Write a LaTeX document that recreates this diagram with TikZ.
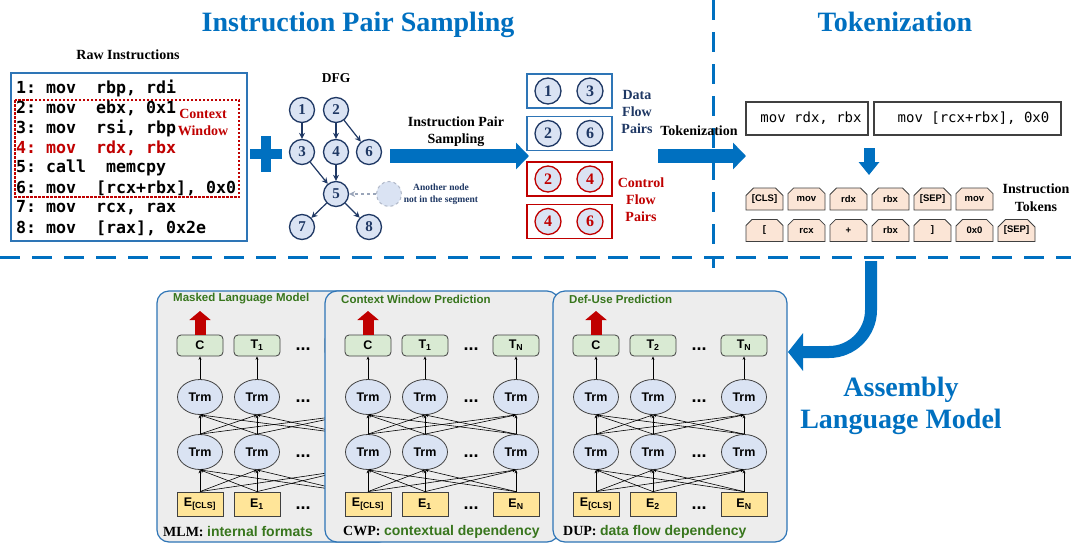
\documentclass[tikz,border=0pt]{standalone}
\usepackage{fontspec}
\setmainfont{Liberation Serif}
\setsansfont{Liberation Sans}
\setmonofont{DejaVu Sans Mono}
\usetikzlibrary{arrows.meta,shapes.geometric,shapes.misc,calc}

\definecolor{tblue}{HTML}{0070C0}
\definecolor{bblue}{HTML}{2E75B6}
\definecolor{navy}{HTML}{1F3864}
\definecolor{dred}{HTML}{C00000}
\definecolor{lav}{HTML}{DAE3F3}
\definecolor{pgreen}{HTML}{D9EAD3}
\definecolor{tgreen}{HTML}{38761D}
\definecolor{pyellow}{HTML}{FFE599}
\definecolor{peach}{HTML}{FBE5D6}
\definecolor{panelgray}{HTML}{EDEDED}
\definecolor{edgegray}{HTML}{404040}

\tikzset{
 bigtitle/.style={font=\fontsize{28}{32}\selectfont\bfseries, text=tblue, anchor=base, inner sep=0},
 lbl/.style={font=\fontsize{14}{17}\selectfont\bfseries, align=center, inner sep=0},
 codeline/.style={font=\fontsize{16.6}{20}\selectfont\ttfamily\bfseries, anchor=west, inner sep=0},
 rawbox/.style={draw=bblue, line width=1.8pt},
 ctxbox/.style={draw=dred, line width=1.1pt, dash pattern=on 2.5pt off 1.5pt},
 dfgnode/.style={circle, draw=navy, line width=1.3pt, fill=lav, minimum size=25pt, inner sep=0, font=\fontsize{15}{15}\selectfont\bfseries, text=navy},
 ghostnode/.style={circle, draw=navy!35, dashed, line width=1pt, fill=lav, minimum size=25pt},
 dfgedge/.style={draw=navy, line width=1.2pt, -{Stealth[length=6pt,width=6pt]}},
 ghostedge/.style={draw=navy!45, line width=1.2pt, dashed, -{Stealth[length=6pt,width=6pt]}},
 pairbox/.style={line width=1.8pt, minimum width=85pt, minimum height=34pt, inner sep=0},
 paircirc/.style={circle, line width=1.3pt, fill=lav, minimum size=26pt, inner sep=0, font=\fontsize{16}{16}\selectfont\bfseries},
 bigarrow/.style={draw=tblue, line width=14pt, -{Triangle[width=26pt,length=13pt]}},
 sepline/.style={draw=tblue, line width=3pt, dash pattern=on 20pt off 12pt},
 tokbox/.style={draw=edgegray, line width=1.3pt, minimum height=33pt, inner sep=0, font=\fontsize{14}{14}\selectfont\ttfamily},
 token/.style={chamfered rectangle, chamfered rectangle corners={north west,north east}, chamfered rectangle xsep=6pt, draw=edgegray, line width=0.8pt, fill=peach, minimum width=37pt, minimum height=22pt, inner sep=0, font=\fontsize{9.5}{9.5}\selectfont\sffamily\bfseries},
 panelbox/.style={draw=bblue, line width=1.2pt, fill=panelgray, rounded corners=12pt},
 ptitle/.style={font=\fontsize{11.5}{12}\selectfont\sffamily\bfseries, text=tgreen, anchor=west, inner sep=0},
 topbox/.style={draw=edgegray, line width=0.8pt, fill=pgreen, rounded corners=4pt, minimum width=46pt, minimum height=21pt, inner sep=0, font=\fontsize{12.5}{12.5}\selectfont\sffamily\bfseries},
 trm/.style={ellipse, draw=edgegray, line width=0.8pt, fill=lav, minimum width=45pt, minimum height=35pt, inner sep=0, font=\fontsize{12.5}{12.5}\selectfont\sffamily\bfseries},
 ebox/.style={draw=edgegray, line width=0.8pt, fill=pyellow, minimum width=46pt, minimum height=24pt, inner sep=0, font=\fontsize{12.5}{12.5}\selectfont\sffamily\bfseries},
 pdots/.style={font=\fontsize{18}{18}\selectfont\sffamily\bfseries, inner sep=0},
 parrow/.style={draw=black, line width=0.6pt, -{Stealth[length=3.5pt,width=3pt]}},
 redarrow/.style={draw=dred, line width=11pt, -{Triangle[width=21pt,length=9pt]}},
 bottomtxt/.style={font=\fontsize{14}{14}\selectfont\bfseries, anchor=west, inner sep=0},
}

% #1 left x, #2 prefix, #3 title, #4 top2, #5 top3, #6 E2, #7 E3, #8 Trm text of column 3
\newcommand\mypanel[8]{%
 \path[panelbox] (#1,291) rectangle (#1+234,542);
 \node[ptitle] (#2title) at (#1+16,299) {#3};
 \node[topbox] (#2t1) at (#1+43,345.5) {C};
 \node[topbox] (#2t2) at (#1+100,345.5) {#4};
 \node[topbox] (#2t3) at (#1+191,345.5) {#5};
 \node[trm] (#2u1) at (#1+43,397) {Trm};
 \node[trm] (#2u2) at (#1+100,397) {Trm};
 \node[trm] (#2u3) at (#1+191,397) {#8};
 \node[trm] (#2l1) at (#1+43,452) {Trm};
 \node[trm] (#2l2) at (#1+100,452) {Trm};
 \node[trm] (#2l3) at (#1+191,452) {#8};
 \node[ebox] (#2e1) at (#1+43,504) {E\textsubscript{[CLS]}};
 \node[ebox] (#2e2) at (#1+100,504) {#6};
 \node[ebox] (#2e3) at (#1+191,504) {#7};
 \node[pdots] (#2d1) at (#1+146,349) {...};
 \node[pdots] (#2d2) at (#1+146,401) {...};
 \node[pdots] (#2d3) at (#1+146,456) {...};
 \node[pdots] (#2d4) at (#1+146,508) {...};
 \coordinate (#2out) at (#1+43,311);
 \draw[redarrow] (#2t1.north) -- (#2out);
 \foreach \i in {1,2,3}{
   \draw[parrow] (#2u\i.north) -- (#2t\i.south);
   \foreach \j in {1,2,3}{
     \draw[parrow] (#2e\i.north) -- (#2l\j.south);
     \draw[parrow] (#2l\i.north) -- (#2u\j.south);
   }
 }
}

\begin{document}
\begin{tikzpicture}[x=1pt,y=-1pt]
\fill[white] (0,0) rectangle (1071,544);
\path[use as bounding box] (0,0) rectangle (1071,544);

% titles
\node[bigtitle] (title1) at (358,31) {Instruction Pair Sampling};
\node[bigtitle] (title2) at (895,31) {Tokenization};

% separators
\draw[sepline] (713,0) -- (713,268);
\draw[sepline] (0,257) -- (1071,257);

% raw instructions
\node[lbl] (rawlbl) at (128,55) {Raw Instructions};
\draw[rawbox] (11,73) rectangle (247,241);
\draw[ctxbox] (15,100) rectangle (239,197);
\node[codeline] (c1) at (16,88) {1:~mov~~rbp,~rdi};
\node[codeline] (c2) at (16,108) {2:~mov~~ebx,~0x1};
\node[codeline] (c3) at (16,128) {3:~mov~~rsi,~rbp};
\node[codeline, text=dred] (c4) at (16,148) {4:~mov~~rdx,~rbx};
\node[codeline] (c5) at (16,168) {5:~call~~memcpy};
\node[codeline] (c6) at (16,188) {6:~mov~~[rcx+rbx],~0x0};
\node[codeline] (c7) at (16,208) {7:~mov~~rcx,~rax};
\node[codeline] (c8) at (16,228) {8:~mov~~[rax],~0x2e};
\node[lbl, text=dred] (ctxlbl) at (203,122.5) {Context\\Window};

% plus
\draw[tblue, line width=10pt] (250,154) -- (282,154);
\draw[tblue, line width=10pt] (266,136) -- (266,172);

% DFG
\node[lbl, font=\fontsize{13.5}{14}\selectfont\bfseries] (dfglbl) at (336,78) {DFG};
\node[dfgnode] (n1) at (302,110) {1};
\node[dfgnode] (n2) at (336,110) {2};
\node[dfgnode] (n3) at (302,152) {3};
\node[dfgnode] (n4) at (336,152) {4};
\node[dfgnode] (n6) at (369,152) {6};
\node[dfgnode] (n5) at (336,194) {5};
\node[dfgnode] (n7) at (302,227) {7};
\node[dfgnode] (n8) at (369,227) {8};
\node[ghostnode] (nx) at (389,194) {};
\draw[dfgedge] (n1) -- (n3);
\draw[dfgedge] (n2) -- (n4);
\draw[dfgedge] (n2) -- (n6);
\draw[dfgedge] (n3) -- (n5);
\draw[dfgedge] (n4) -- (n5);
\draw[dfgedge] (n5) -- (n7);
\draw[dfgedge] (n5) -- (n8);
\draw[ghostedge] (nx) -- (n5);
\node[lbl, font=\fontsize{9.5}{12}\selectfont\bfseries, text=navy] (nxlbl) at (441,194) {Another node\\not in the segment};

% sampling arrow
\node[lbl] (samplbl) at (456,132) {Instruction Pair\\Sampling};
\coordinate (sa1) at (390,156);
\coordinate (sa2) at (529,156);
\draw[bigarrow] (sa1) -- (sa2);

% pairs
\node[pairbox, draw=bblue] (p1) at (569.5,91) {};
\node[pairbox, draw=bblue] (p2) at (569.5,133.5) {};
\node[pairbox, draw=dred] (p3) at (569.5,179) {};
\node[pairbox, draw=dred] (p4) at (569.5,221.5) {};
\node[paircirc, draw=navy, text=navy] (p1a) at (548,91) {1};
\node[paircirc, draw=navy, text=navy] (p1b) at (590,91) {3};
\node[paircirc, draw=navy, text=navy] (p2a) at (548,133.5) {2};
\node[paircirc, draw=navy, text=navy] (p2b) at (590,133.5) {6};
\node[paircirc, draw=dred, text=dred] (p3a) at (548,179) {2};
\node[paircirc, draw=dred, text=dred] (p3b) at (590,179) {4};
\node[paircirc, draw=dred, text=dred] (p4a) at (548,221.5) {4};
\node[paircirc, draw=dred, text=dred] (p4b) at (590,221.5) {6};
\node[lbl, text=navy] (dfplbl) at (637,112) {Data\\Flow\\Pairs};
\node[lbl, text=dred] (cfplbl) at (641,200) {Control\\Flow\\Pairs};

% tokenization arrow
\node[lbl] (toklbl) at (699,131) {Tokenization};
\coordinate (ta1) at (658,156);
\coordinate (ta2) at (746,156);
\draw[bigarrow] (ta1) -- (ta2);

% tokenization boxes
\node[tokbox, minimum width=122pt] (tb1) at (807,118.5) {\hspace*{8pt}mov rdx, rbx};
\node[tokbox, minimum width=187pt] (tb2) at (967.5,118.5) {\hspace*{12pt}mov [rcx+rbx], 0x0};
\coordinate (da1) at (869,148);
\coordinate (da2) at (869,175);
\draw[draw=tblue, line width=11pt, -{Triangle[width=20pt,length=13pt]}] (da1) -- (da2);

% tokens
\node[token] (k1) at (764.5,199) {[CLS]};
\node[token] (k2) at (806.5,199) {mov};
\node[token] (k3) at (848.5,199) {rdx};
\node[token] (k4) at (890.5,199) {rbx};
\node[token] (k5) at (932.5,199) {[SEP]};
\node[token] (k6) at (974.5,199) {mov};
\node[token] (m1) at (764.5,230.5) {[};
\node[token] (m2) at (806.5,230.5) {rcx};
\node[token] (m3) at (848.5,230.5) {+};
\node[token] (m4) at (890.5,230.5) {rbx};
\node[token] (m5) at (932.5,230.5) {]};
\node[token] (m6) at (974.5,230.5) {0x0};
\node[token] (m7) at (1016.5,230.5) {[SEP]};
\node[lbl, font=\fontsize{14}{18}\selectfont\bfseries] (itlbl) at (1036,198) {Instruction\\Tokens};

% curved arrow
\coordinate (cs) at (871,261);
\coordinate (ce) at (788,352);
\draw[draw=tblue, line width=12pt, rounded corners=42pt, -{Triangle[width=37pt,length=15pt]}] (cs) |- (ce);
\node[lbl, font=\fontsize{28}{32}\selectfont\bfseries, text=tblue] (almlbl) at (901,406) {Assembly\\Language Model};

% panels
\mypanel{157}{a}{Masked Language Model}{T\textsubscript{1}}{}{E\textsubscript{1}}{}{}
\node[bottomtxt] (abot) at (163,532) {MLM: {\sffamily\color{tgreen}internal formats}};
\mypanel{325}{b}{Context Window Prediction}{T\textsubscript{1}}{T\textsubscript{N}}{E\textsubscript{1}}{E\textsubscript{N}}{Trm}
\node[bottomtxt] (bbot) at (343,532) {CWP: {\sffamily\color{tgreen}contextual dependency}};
\mypanel{553}{c}{Def-Use Prediction}{T\textsubscript{2}}{T\textsubscript{N}}{E\textsubscript{2}}{E\textsubscript{N}}{Trm}
\node[bottomtxt] (cbot) at (563,532) {DUP: {\sffamily\color{tgreen}data flow dependency}};

\end{tikzpicture}
\end{document}
